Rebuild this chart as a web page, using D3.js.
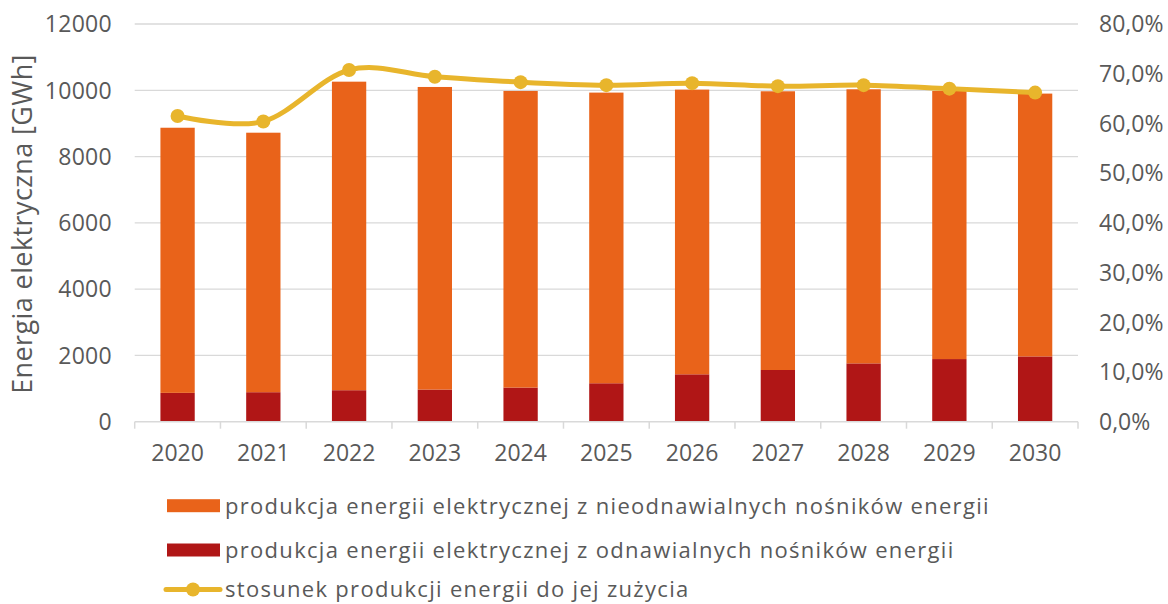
<!DOCTYPE html>
<html><head><meta charset="utf-8">
<script src="https://cdn.jsdelivr.net/npm/d3@7"></script>
<style>
html,body{margin:0;padding:0;background:#fff;}
svg text{font-family:"Open Sans",sans-serif;fill:#595959;}
</style></head>
<body><svg id="chart" width="1168" height="604"></svg>
<script>
const years = ["2020","2021","2022","2023","2024","2025","2026","2027","2028","2029","2030"];
const renewable = [870, 890, 950, 970, 1030, 1160, 1430, 1560, 1760, 1890, 1970];
const nonRenewable = [8000, 7830, 9310, 9130, 8950, 8770, 8590, 8410, 8270, 8090, 7930];
const ratio = [0.615, 0.604, 0.7075, 0.694, 0.683, 0.677, 0.681, 0.675, 0.677, 0.670, 0.662];
const leftTicks = [0, 2000, 4000, 6000, 8000, 10000, 12000];
const rightTicks = [0, 0.1, 0.2, 0.3, 0.4, 0.5, 0.6, 0.7, 0.8];
const legendLabels = [
  "produkcja energii elektrycznej z nieodnawialnych nośników energii",
  "produkcja energii elektrycznej z odnawialnych nośników energii",
  "stosunek produkcji energii do jej zużycia"
];
const yTitle = "Energia elektryczna [GWh]";

const C_NON = "#E9631A", C_REN = "#B01616", C_LINE = "#E8B52C", C_GRID = "#D9D9D9";

const svg = d3.select("#chart");
const pL = 134.7, pR = 1078, pT = 24, pB = 421.7;

const x = d3.scaleBand().domain(years).range([pL, pR]).paddingInner(0.6).paddingOuter(0.3);
const xb = d3.scaleBand().domain(years).range([pL, pR]);
const y = d3.scaleLinear().domain([0, 12000]).range([pB, pT]);
const y2 = d3.scaleLinear().domain([0, 0.8]).range([pB, pT]);

// gridlines
svg.append("g").selectAll("line").data(leftTicks.slice(1)).join("line")
  .attr("x1", pL).attr("x2", pR)
  .attr("y1", d => y(d)).attr("y2", d => y(d))
  .attr("stroke", C_GRID).attr("stroke-width", 1.3);

// bars
const data = years.map((yr, i) => ({yr, r: renewable[i], n: nonRenewable[i]}));
svg.append("g").selectAll("rect").data(data).join("rect")
  .attr("x", d => x(d.yr)).attr("width", x.bandwidth())
  .attr("y", d => y(d.r)).attr("height", d => y(0) - y(d.r))
  .attr("fill", C_REN);
svg.append("g").selectAll("rect").data(data).join("rect")
  .attr("x", d => x(d.yr)).attr("width", x.bandwidth())
  .attr("y", d => y(d.r + d.n)).attr("height", d => y(d.r) - y(d.r + d.n))
  .attr("fill", C_NON);

// bottom axis
const xAxis = svg.append("g").attr("transform", `translate(0,${pB})`);
xAxis.append("line").attr("x1", pL).attr("x2", pR).attr("stroke", C_GRID).attr("stroke-width", 1.5);
const bounds = years.map(yr => xb(yr)).concat([pR]);
xAxis.selectAll("line.tk").data(bounds).join("line").attr("class","tk")
  .attr("x1", d => d).attr("x2", d => d).attr("y1", 0).attr("y2", 7)
  .attr("stroke", C_GRID).attr("stroke-width", 1.5);
xAxis.selectAll("text").data(years).join("text")
  .attr("x", d => xb(d) + xb.bandwidth()/2).attr("y", 39)
  .attr("text-anchor", "middle").attr("font-size", 23).text(d => d);

// left axis labels
svg.append("g").selectAll("text").data(leftTicks).join("text")
  .attr("x", 112).attr("y", d => y(d)).attr("dy", "0.36em")
  .attr("text-anchor", "end").attr("font-size", 23).attr("letter-spacing", 0.3).text(d => d);

// right axis labels
const fmtPct = v => d3.format(".1f")(v * 100).replace(".", ",") + "%";
svg.append("g").selectAll("text").data(rightTicks).join("text")
  .attr("x", 1099).attr("y", d => y2(d)).attr("dy", "0.36em")
  .attr("text-anchor", "start").attr("font-size", 23).text(d => fmtPct(d));

// y title
svg.append("text").attr("transform", `translate(32,224) rotate(-90)`)
  .attr("text-anchor", "middle").attr("font-size", 27).attr("letter-spacing", 0.4).text(yTitle);

// line
const pts = years.map((yr, i) => [xb(yr) + xb.bandwidth()/2, y2(ratio[i])]);
svg.append("path").attr("d", d3.line().curve(d3.curveCardinal.tension(0))(pts))
  .attr("fill", "none").attr("stroke", C_LINE).attr("stroke-width", 5).attr("stroke-linecap","round");
svg.append("g").selectAll("circle").data(pts).join("circle")
  .attr("cx", d => d[0]).attr("cy", d => d[1]).attr("r", 7).attr("fill", C_LINE);

// legend
const lg = svg.append("g");
const rowsY = [505.7, 550, 589.5];
lg.append("rect").attr("x", 167).attr("y", rowsY[0]-6.5).attr("width", 53).attr("height", 13).attr("fill", C_NON);
lg.append("rect").attr("x", 167).attr("y", rowsY[1]-6.5).attr("width", 53).attr("height", 13).attr("fill", C_REN);
lg.append("line").attr("x1", 166).attr("x2", 220).attr("y1", rowsY[2]).attr("y2", rowsY[2])
  .attr("stroke", C_LINE).attr("stroke-width", 5).attr("stroke-linecap","round");
lg.append("circle").attr("cx", 193).attr("cy", rowsY[2]).attr("r", 7).attr("fill", C_LINE);
lg.selectAll("text").data(legendLabels).join("text")
  .attr("x", 225).attr("y", (d, i) => rowsY[i]).attr("dy", "0.36em")
  .attr("font-size", 22).attr("letter-spacing", 1.3).text(d => d);
</script></body></html>
